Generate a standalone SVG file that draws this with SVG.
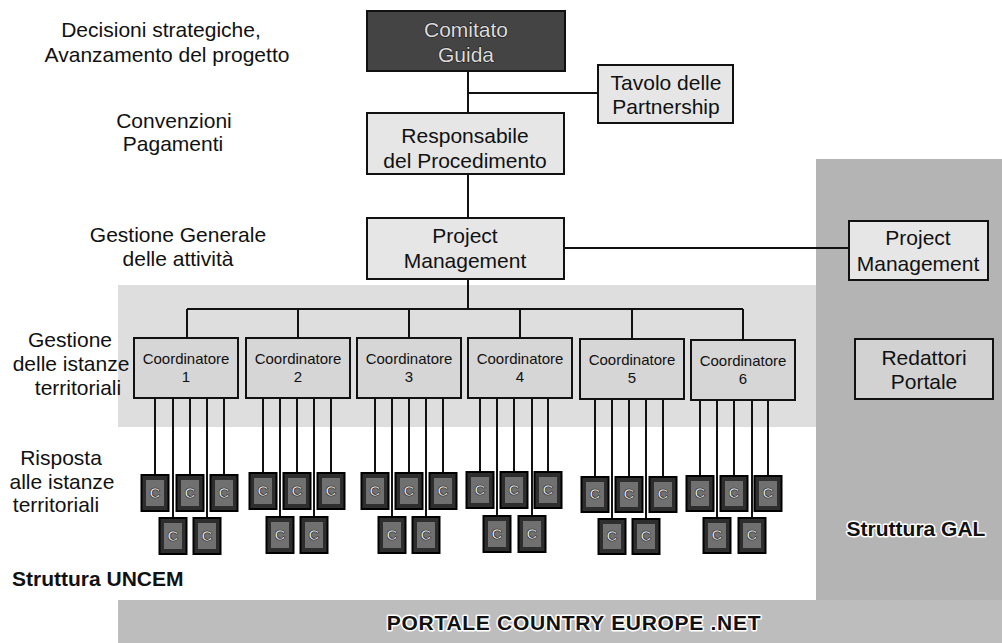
<svg xmlns="http://www.w3.org/2000/svg" width="1002" height="643" viewBox="0 0 1002 643">
<style>
text{font-family:"Liberation Sans",Arial,sans-serif;fill:#111}
.lbl{font-size:21px;text-anchor:middle}
.nt{font-size:21px;text-anchor:middle}
.ct{font-size:15px;text-anchor:middle}
.bold{font-size:21px;font-weight:bold}
.halo{paint-order:stroke;stroke:#fff;stroke-width:3px;stroke-linejoin:round}
.box{fill:#e6e6e6;stroke:#111;stroke-width:2}
.coord{fill:#d6d6d6;stroke:#111;stroke-width:2}
.dark{fill:#444;stroke:#111;stroke-width:2}
.wt{fill:#dcdcdc;stroke:#111;stroke-width:1px;paint-order:stroke;font-size:21px;text-anchor:middle}
.cb{fill:#2e2e2e;stroke:#000;stroke-width:2}
.ci{fill:#707070}
.cc{font-size:15px;font-weight:bold;text-anchor:middle;fill:#e8e8e8;stroke:#111;stroke-width:0.6px}
.ln{stroke:#111;stroke-width:2;fill:none}
</style>
<!-- background regions -->
<g id="regions">
<rect x="0" y="0" width="1002" height="643" fill="#fff"/>
<rect x="118" y="285" width="698" height="142" fill="#dedede"/>
<rect x="816" y="159" width="186" height="484" fill="#b4b4b4"/>
<rect x="118" y="600" width="884" height="43" fill="#bdbdbd"/>
</g>
<!-- left labels -->
<g id="labels">
<text class="lbl" x="161" y="37">Decisioni strategiche,</text>
<text class="lbl" x="167" y="62">Avanzamento del progetto</text>
<text class="lbl" x="174" y="128">Convenzioni</text>
<text class="lbl" x="173" y="151">Pagamenti</text>
<text class="lbl" x="178" y="242">Gestione Generale</text>
<text class="lbl" x="178" y="266">delle attività</text>
<text class="lbl" x="70" y="347">Gestione</text>
<text class="lbl" x="71" y="371">delle istanze</text>
<text class="lbl" x="78" y="395">territoriali</text>
<text class="lbl" x="61" y="465">Risposta</text>
<text class="lbl" x="62" y="489">alle istanze</text>
<text class="lbl" x="56" y="512">territoriali</text>
<text class="bold" x="12" y="586">Struttura UNCEM</text>
<text class="bold halo" x="916" y="536" text-anchor="middle">Struttura GAL</text>
<text class="bold halo" x="574" y="630" text-anchor="middle" letter-spacing="0.7">PORTALE COUNTRY EUROPE .NET</text>
</g>
<!-- connectors -->
<g id="connectors" class="ln">
<path d="M468 71V113M468 93H598M468 174V218M564 248H849M468 279V309M187 309H743"/>
<path d="M187 309V338M298 309V338M409 309V338M520 309V338M632 309V339M743 309V340"/>
<path d="M155 398V475M173 398V518M190 398V475M207 398V518M224 398V475"/>
<path d="M263 398V473M280 398V517M297 398V473M314 398V517M331 398V473"/>
<path d="M375 398V473M392 398V517M409 398V473M426 398V517M443 398V473"/>
<path d="M480 398V472M497 398V516M514 398V472M532 398V516M548 398V472"/>
<path d="M595 399V477M612 399V519M629 399V477M646 399V519M663 399V477"/>
<path d="M700 400V476M717 400V518M734 400V476M752 400V518M768 400V476"/>
</g>
<!-- top nodes -->
<g id="comitato"><rect class="dark" x="367" y="11" width="198" height="60"/><text class="wt" x="466" y="37">Comitato</text><text class="wt" x="466" y="62">Guida</text></g>
<g id="tavolo"><rect class="box" x="598" y="65" width="135" height="58"/><text class="nt" x="666" y="90">Tavolo delle</text><text class="nt" x="666" y="114">Partnership</text></g>
<g id="responsabile"><rect class="box" x="367" y="113" width="197" height="61"/><text class="nt" x="465" y="143">Responsabile</text><text class="nt" x="465" y="168">del Procedimento</text></g>
<g id="pm-uncem"><rect class="box" x="367" y="218" width="197" height="61"/><text class="nt" x="465" y="243">Project</text><text class="nt" x="465" y="268">Management</text></g>
<g id="pm-gal"><rect class="box" x="849" y="221" width="139" height="59"/><text class="nt" x="918" y="245">Project</text><text class="nt" x="918" y="271">Management</text></g>
<g id="redattori"><rect class="box" x="855" y="339" width="138" height="60" style="fill:#d2d2d2"/><text class="nt" x="924" y="365">Redattori</text><text class="nt" x="924" y="389">Portale</text></g>
<!-- coordinators -->
<g id="coord1"><rect class="coord" x="134" y="338" width="104" height="60"/><text class="ct" x="186" y="364">Coordinatore</text><text class="ct" x="186" y="382">1</text></g>
<g id="coord2"><rect class="coord" x="246" y="338" width="104" height="60"/><text class="ct" x="298" y="364">Coordinatore</text><text class="ct" x="298" y="382">2</text></g>
<g id="coord3"><rect class="coord" x="357" y="338" width="104" height="60"/><text class="ct" x="409" y="364">Coordinatore</text><text class="ct" x="409" y="382">3</text></g>
<g id="coord4"><rect class="coord" x="468" y="338" width="104" height="60"/><text class="ct" x="520" y="364">Coordinatore</text><text class="ct" x="520" y="382">4</text></g>
<g id="coord5"><rect class="coord" x="580" y="339" width="104" height="60"/><text class="ct" x="632" y="365">Coordinatore</text><text class="ct" x="632" y="383">5</text></g>
<g id="coord6"><rect class="coord" x="691" y="340" width="104" height="60"/><text class="ct" x="743" y="366">Coordinatore</text><text class="ct" x="743" y="384">6</text></g>
<!-- C boxes -->
<g id="c-g1">
<g><rect class="cb" x="141.5" y="475" width="27" height="36"/><rect class="ci" x="146" y="480" width="18" height="26"/><text class="cc" x="155" y="498">C</text></g>
<g><rect class="cb" x="176.5" y="475" width="27" height="36"/><rect class="ci" x="181" y="480" width="18" height="26"/><text class="cc" x="190" y="498">C</text></g>
<g><rect class="cb" x="210.5" y="475" width="27" height="36"/><rect class="ci" x="215" y="480" width="18" height="26"/><text class="cc" x="224" y="498">C</text></g>
<g><rect class="cb" x="159.5" y="518" width="27" height="36"/><rect class="ci" x="164" y="523" width="18" height="26"/><text class="cc" x="173" y="541">C</text></g>
<g><rect class="cb" x="193.5" y="518" width="27" height="36"/><rect class="ci" x="198" y="523" width="18" height="26"/><text class="cc" x="207" y="541">C</text></g>
</g>
<g id="c-g2">
<g><rect class="cb" x="249.5" y="473" width="27" height="36"/><rect class="ci" x="254" y="478" width="18" height="26"/><text class="cc" x="263" y="496">C</text></g>
<g><rect class="cb" x="283.5" y="473" width="27" height="36"/><rect class="ci" x="288" y="478" width="18" height="26"/><text class="cc" x="297" y="496">C</text></g>
<g><rect class="cb" x="317.5" y="473" width="27" height="36"/><rect class="ci" x="322" y="478" width="18" height="26"/><text class="cc" x="331" y="496">C</text></g>
<g><rect class="cb" x="266.5" y="517" width="27" height="36"/><rect class="ci" x="271" y="522" width="18" height="26"/><text class="cc" x="280" y="540">C</text></g>
<g><rect class="cb" x="300.5" y="517" width="27" height="36"/><rect class="ci" x="305" y="522" width="18" height="26"/><text class="cc" x="314" y="540">C</text></g>
</g>
<g id="c-g3">
<g><rect class="cb" x="361.5" y="473" width="27" height="36"/><rect class="ci" x="366" y="478" width="18" height="26"/><text class="cc" x="375" y="496">C</text></g>
<g><rect class="cb" x="395.5" y="473" width="27" height="36"/><rect class="ci" x="400" y="478" width="18" height="26"/><text class="cc" x="409" y="496">C</text></g>
<g><rect class="cb" x="429.5" y="473" width="27" height="36"/><rect class="ci" x="434" y="478" width="18" height="26"/><text class="cc" x="443" y="496">C</text></g>
<g><rect class="cb" x="378.5" y="517" width="27" height="36"/><rect class="ci" x="383" y="522" width="18" height="26"/><text class="cc" x="392" y="540">C</text></g>
<g><rect class="cb" x="412.5" y="517" width="27" height="36"/><rect class="ci" x="417" y="522" width="18" height="26"/><text class="cc" x="426" y="540">C</text></g>
</g>
<g id="c-g4">
<g><rect class="cb" x="466.5" y="472" width="27" height="36"/><rect class="ci" x="471" y="477" width="18" height="26"/><text class="cc" x="480" y="495">C</text></g>
<g><rect class="cb" x="500.5" y="472" width="27" height="36"/><rect class="ci" x="505" y="477" width="18" height="26"/><text class="cc" x="514" y="495">C</text></g>
<g><rect class="cb" x="534.5" y="472" width="27" height="36"/><rect class="ci" x="539" y="477" width="18" height="26"/><text class="cc" x="548" y="495">C</text></g>
<g><rect class="cb" x="483.5" y="516" width="27" height="36"/><rect class="ci" x="488" y="521" width="18" height="26"/><text class="cc" x="497" y="539">C</text></g>
<g><rect class="cb" x="518.5" y="516" width="27" height="36"/><rect class="ci" x="523" y="521" width="18" height="26"/><text class="cc" x="532" y="539">C</text></g>
</g>
<g id="c-g5">
<g><rect class="cb" x="581.5" y="477" width="27" height="35"/><rect class="ci" x="586" y="482" width="18" height="25"/><text class="cc" x="595" y="499">C</text></g>
<g><rect class="cb" x="615.5" y="477" width="27" height="35"/><rect class="ci" x="620" y="482" width="18" height="25"/><text class="cc" x="629" y="499">C</text></g>
<g><rect class="cb" x="649.5" y="477" width="27" height="35"/><rect class="ci" x="654" y="482" width="18" height="25"/><text class="cc" x="663" y="499">C</text></g>
<g><rect class="cb" x="598.5" y="519" width="27" height="35"/><rect class="ci" x="603" y="524" width="18" height="25"/><text class="cc" x="612" y="541">C</text></g>
<g><rect class="cb" x="632.5" y="519" width="27" height="35"/><rect class="ci" x="637" y="524" width="18" height="25"/><text class="cc" x="646" y="541">C</text></g>
</g>
<g id="c-g6">
<g><rect class="cb" x="686.5" y="476" width="27" height="35"/><rect class="ci" x="691" y="481" width="18" height="25"/><text class="cc" x="700" y="498">C</text></g>
<g><rect class="cb" x="720.5" y="476" width="27" height="35"/><rect class="ci" x="725" y="481" width="18" height="25"/><text class="cc" x="734" y="498">C</text></g>
<g><rect class="cb" x="754.5" y="476" width="27" height="35"/><rect class="ci" x="759" y="481" width="18" height="25"/><text class="cc" x="768" y="498">C</text></g>
<g><rect class="cb" x="703.5" y="518" width="27" height="35"/><rect class="ci" x="708" y="523" width="18" height="25"/><text class="cc" x="717" y="540">C</text></g>
<g><rect class="cb" x="738.5" y="518" width="27" height="35"/><rect class="ci" x="743" y="523" width="18" height="25"/><text class="cc" x="752" y="540">C</text></g>
</g>
</svg>
